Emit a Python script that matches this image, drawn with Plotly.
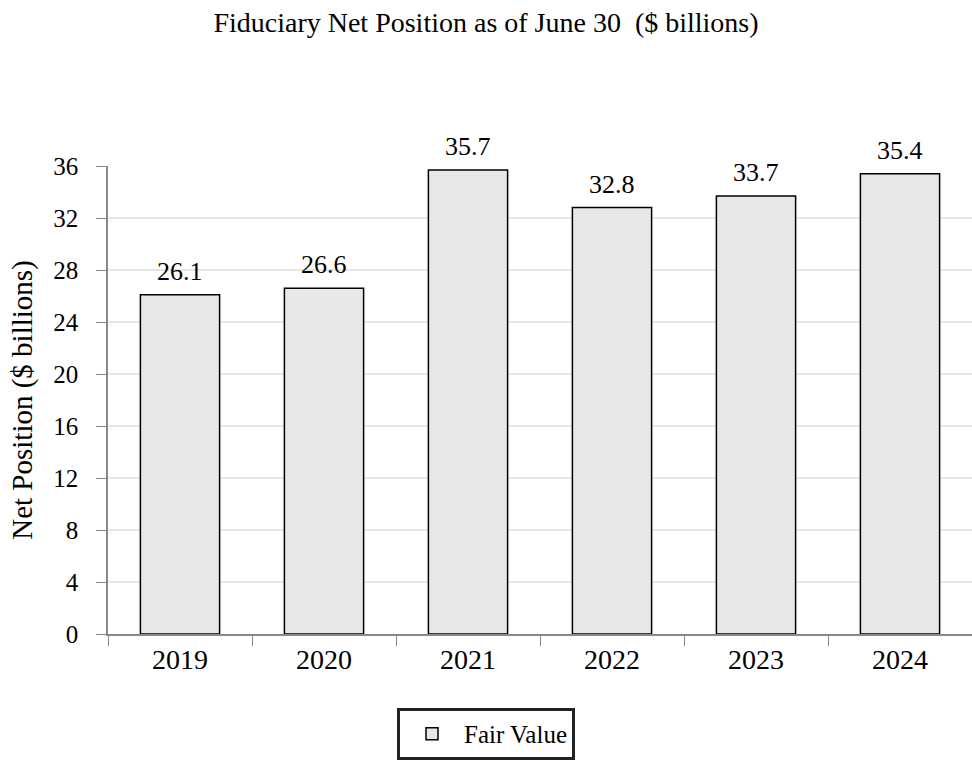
import plotly.graph_objects as go

years = ["2019", "2020", "2021", "2022", "2023", "2024"]
values = [26.1, 26.6, 35.7, 32.8, 33.7, 35.4]
labels = ["26.1", "26.6", "35.7", "32.8", "33.7", "35.4"]
y_ticks = [0, 4, 8, 12, 16, 20, 24, 28, 32, 36]

FONT = "Liberation Serif"

fig = go.Figure()
fig.add_trace(go.Bar(
    x=years, y=values, name="Fair Value",
    marker=dict(color="#e8e8e8", line=dict(color="#000000", width=1.5)),
    cliponaxis=False,
    showlegend=True,
))

# value labels above bars (x given as category index)
for i, (yv, lab) in enumerate(zip(values, labels)):
    fig.add_annotation(x=i, y=yv, xref="x", yref="y", text=lab, showarrow=False,
                       xanchor="center", yanchor="bottom", yshift=7,
                       font=dict(family=FONT, size=26, color="#000"))

fig.update_layout(
    width=972, height=760,
    margin=dict(l=108, r=0, t=166, b=124),
    plot_bgcolor="white", paper_bgcolor="white",
    bargap=0.45,
    font=dict(family=FONT, size=25, color="#000"),
    title=dict(text="Fiduciary Net Position as of June 30  ($ billions)",
               x=0.5, xanchor="center", y=0.971, yanchor="middle",
               font=dict(family=FONT, size=28, color="#000")),
    showlegend=True,
    legend=dict(orientation="h", x=0.4375, xanchor="center", y=-0.158, yanchor="top",
                bordercolor="#222", borderwidth=3, itemwidth=54,
                font=dict(family=FONT, size=25, color="#000")),
    xaxis=dict(type="category", categoryorder="array", categoryarray=years,
               showline=True, linecolor="#888", linewidth=1.5,
               ticks="outside", tickson="boundaries", ticklen=10, tickcolor="#888",
               tickfont=dict(family=FONT, size=28, color="#000"), showgrid=False),
    yaxis=dict(range=[0, 36], tickvals=y_ticks, showline=True, linecolor="#888", linewidth=1.5,
               ticks="outside", ticklen=10, tickcolor="#888",
               gridcolor="#e6e6e6", gridwidth=1.5, zeroline=False,
               tickfont=dict(family=FONT, size=25, color="#000"),
               ticklabelstandoff=13,
               title=dict(text="Net Position ($ billions)", standoff=12,
                          font=dict(family=FONT, size=29, color="#000"))),
)

fig.write_html("out.html")
